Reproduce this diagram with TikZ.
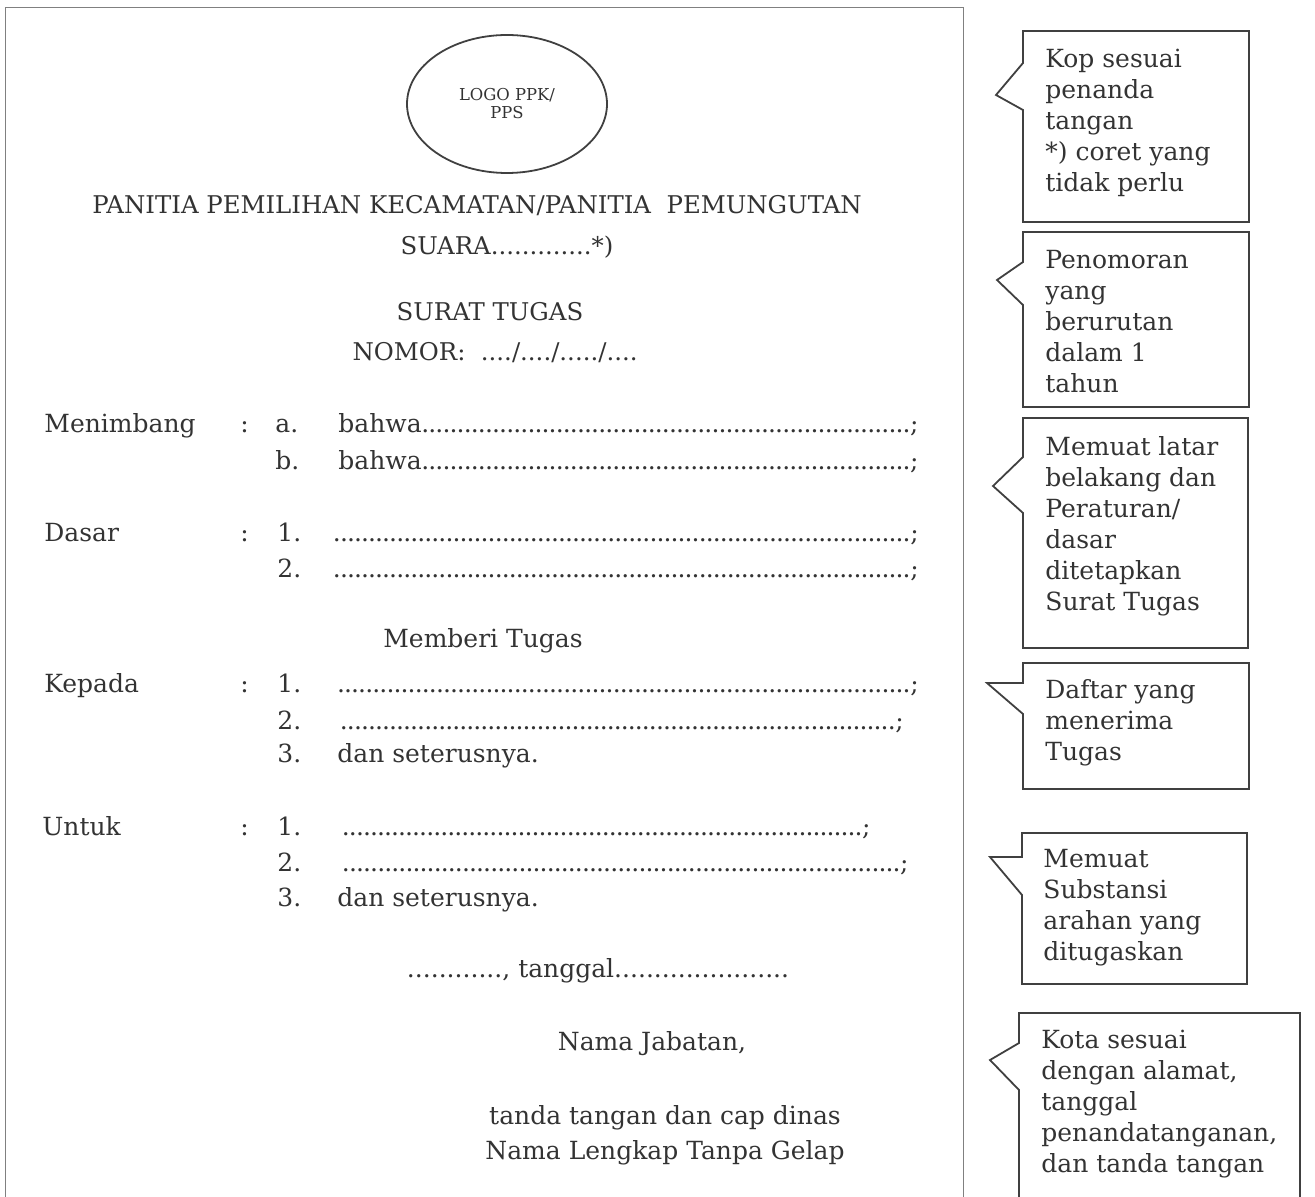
\documentclass[tikz,border=0pt]{standalone}
\usepackage{fontspec}
\setmainfont{DejaVu Serif}
\usetikzlibrary{positioning,shapes.geometric}

\newcommand{\isian}{\xleaders\hbox to 0.28em{\hss.\hss}\hfill}
\newcommand{\garis}[2]{\makebox[#1][s]{#2\isian;}}

\begin{document}
\begin{tikzpicture}[x=0.5pt,y=-0.5pt,
    every node/.style={inner sep=0pt,text=black!80},
    teks/.style={font=\fontsize{12.5}{15}\selectfont,anchor=base west},
    tengah/.style={font=\fontsize{12.5}{15}\selectfont,anchor=base},
    kapital/.style={font=\fontsize{12.2}{15}\selectfont,anchor=base},
    catatan/.style={font=\fontsize{12.5}{15.5}\selectfont,anchor=north west,align=left},
    logo/.style={ellipse,draw=black!75,line width=0.9pt,minimum width=100pt,
                 minimum height=69pt,align=center,font=\fontsize{8.2}{9}\selectfont},
    bingkai/.style={draw=black!50,line width=0.5pt},
    kotak/.style={draw=black!75,line width=0.9pt,line join=miter}]

  \useasboundingbox (0,0) rectangle (1315,1197);

  % lembar surat tugas
  \draw[bingkai] (5,1197) -- (5,8) -- (963,8) -- (963,1197);

  \node[logo] (logo) at (507,104) {LOGO PPK/\\PPS};

  \node[kapital] (judul) at (477,214) {PANITIA PEMILIHAN KECAMATAN/PANITIA\ \ PEMUNGUTAN};
  \node[kapital] (suara) at (507,255) {SUARA.............*)};
  \node[kapital] (surat) at (490,321) {SURAT TUGAS};
  \node[kapital] (nomor) at (495,361) {NOMOR:\ \ ..../..../...../....};

  % menimbang
  \node[teks] (menimbang) at (44,432) {Menimbang};
  \node[teks] (tkMenimbang) at (240,432) {:};
  \node[teks] (mA) at (275,432) {a.};
  \node[teks] (mAisi) at (338,432) {\garis{290pt}{bahwa}};
  \node[teks] (mB) at (275,469) {b.};
  \node[teks] (mBisi) at (338,469) {\garis{290pt}{bahwa}};

  % dasar
  \node[teks] (dasar) at (44,541) {Dasar};
  \node[teks] (tkDasar) at (240,541) {:};
  \node[teks] (d1) at (277,541) {1.};
  \node[teks] (d1isi) at (333,541) {\garis{292.5pt}{}};
  \node[teks] (d2) at (277,577) {2.};
  \node[teks] (d2isi) at (333,577) {\garis{292.5pt}{}};

  \node[tengah] (memberi) at (483,647) {Memberi Tugas};

  % kepada
  \node[teks] (kepada) at (44,692) {Kepada};
  \node[teks] (tkKepada) at (240,692) {:};
  \node[teks] (k1) at (277,692) {1.};
  \node[teks] (k1isi) at (337,692) {\garis{290.5pt}{}};
  \node[teks] (k2) at (277,729) {2.};
  \node[teks] (k2isi) at (340,729) {\garis{281.5pt}{}};
  \node[teks] (k3) at (277,762) {3.};
  \node[teks] (k3isi) at (337,762) {dan seterusnya.};

  % untuk
  \node[teks] (untuk) at (42,835) {Untuk};
  \node[teks] (tkUntuk) at (240,835) {:};
  \node[teks] (u1) at (277,835) {1.};
  \node[teks] (u1isi) at (342,835) {\garis{264pt}{}};
  \node[teks] (u2) at (277,871) {2.};
  \node[teks] (u2isi) at (342,871) {\garis{283pt}{}};
  \node[teks] (u3) at (277,906) {3.};
  \node[teks] (u3isi) at (337,906) {dan seterusnya.};

  % penutup
  \node[tengah] (tanggal) at (598,977) {............, tanggal......................};
  \node[tengah] (jabatan) at (652,1050) {Nama Jabatan,};
  \node[tengah] (ttd) at (665,1124) {tanda tangan dan cap dinas};
  \node[tengah] (nama) at (665,1159) {Nama Lengkap Tanpa Gelap};

  % catatan di kanan
  \draw[kotak] (1023,63) |- (1249,31) |- (1023,222) -- (1023,110) -- (996,95) -- cycle;
  \node[catatan] (kop) at (1045,49) {Kop sesuai\\penanda\\tangan\\*) coret yang\\tidak perlu};

  \draw[kotak] (1023,262) |- (1249,232) |- (1023,407) -- (1023,305) -- (997,280) -- cycle;
  \node[catatan] (penomoran) at (1045,250) {Penomoran\\yang\\berurutan\\dalam 1\\tahun};

  \draw[kotak] (1023,457) |- (1248,418) |- (1023,648) -- (1023,513) -- (993,486) -- cycle;
  \node[catatan] (latar) at (1045,436) {Memuat latar\\belakang dan\\Peraturan/\\dasar\\ditetapkan\\Surat Tugas};

  \draw[kotak] (1023,683) |- (1249,663) |- (1023,789) -- (1023,714) -- (987,683) -- cycle;
  \node[catatan] (daftar) at (1045,679) {Daftar yang\\menerima\\Tugas};

  \draw[kotak] (1022,857) |- (1247,833) |- (1022,984) -- (1022,895) -- (990,857) -- cycle;
  \node[catatan] (substansi) at (1043,849) {Memuat\\Substansi\\arahan yang\\ditugaskan};

  \draw[kotak] (1019,1197) -- (1019,1090) -- (990,1060) -- (1019,1043) |- (1300,1013) -- (1300,1197);
  \node[catatan] (kota) at (1041,1030) {Kota sesuai\\dengan alamat,\\tanggal\\penandatanganan,\\dan tanda tangan};
\end{tikzpicture}
\end{document}
